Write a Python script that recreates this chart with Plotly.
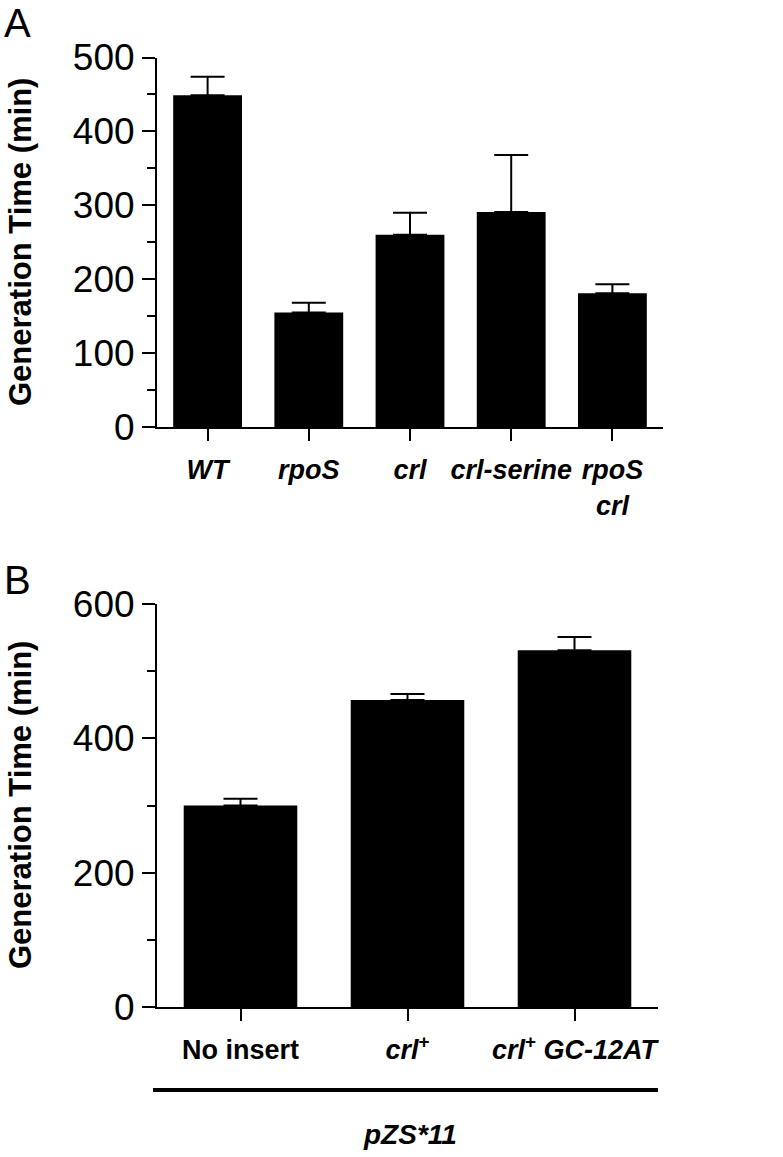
import plotly.graph_objects as go

# Panel A data
cats_a = ["<i>WT</i>", "<i>rpoS</i>", "<i>crl</i>", "<i>crl-serine</i>", "<i>rpoS</i><br><i>crl</i>"]
vals_a = [449, 155, 260, 291, 181]
err_a = [25, 13, 30, 77, 12]
yticks_a = [0, 100, 200, 300, 400, 500]

# Panel B data
cats_b = ["No insert", "<i>crl</i><sup>+</sup>", "<i>crl</i><sup>+</sup> <i>GC-12AT</i>"]
vals_b = [300, 457, 531]
err_b = [10, 9, 20]
yticks_b = [0, 200, 400, 600]

W, H = 783, 1157
FONT = "Liberation Sans, Arial, Helvetica, sans-serif"


def px(x):
    return x / W


def py(y):
    return 1 - y / H


fig = go.Figure()

fig.add_trace(go.Bar(
    x=list(range(len(cats_a))), y=vals_a, width=0.68,
    marker=dict(color="black", line=dict(width=0)),
    error_y=dict(type="data", array=err_a, arrayminus=[0]*len(err_a), symmetric=False,
                 color="black", thickness=2, width=17),
    xaxis="x", yaxis="y", showlegend=False))

fig.add_trace(go.Bar(
    x=list(range(len(cats_b))), y=vals_b, width=0.68,
    marker=dict(color="black", line=dict(width=0)),
    error_y=dict(type="data", array=err_b, arrayminus=[0]*len(err_b), symmetric=False,
                 color="black", thickness=2, width=17),
    xaxis="x2", yaxis="y2", showlegend=False))

axis_common = dict(showline=True, linecolor="black", linewidth=2, ticks="outside",
                   tickcolor="black", tickwidth=2, showgrid=False, zeroline=False,
                   automargin=False)

fig.update_layout(
    width=W, height=H, margin=dict(l=0, r=0, t=0, b=0, autoexpand=False),
    paper_bgcolor="white", plot_bgcolor="white",
    font=dict(family=FONT, color="black"),
    xaxis=dict(domain=[px(157), px(663)], range=[-0.5, len(cats_a)-0.5], anchor="y",
               tickmode="array", tickvals=list(range(len(cats_a))), ticktext=["<b>"+c+"</b>" for c in cats_a],
               ticklen=12, tickangle=0, ticklabelstandoff=6, tickfont=dict(size=27, family=FONT), **axis_common),
    yaxis=dict(domain=[py(427), py(57.5)], range=[0, 500], anchor="x",
               tickmode="array", tickvals=yticks_a, ticklen=13,
               minor=dict(dtick=50, ticklen=8, tickwidth=2, tickcolor="black", ticks="outside"),
               tickfont=dict(size=37, family=FONT), **axis_common),
    xaxis2=dict(domain=[px(157), px(658)], range=[-0.5, len(cats_b)-0.5], anchor="y2",
                tickmode="array", tickvals=list(range(len(cats_b))), ticktext=["<b>"+c+"</b>" for c in cats_b],
                ticklen=12, tickangle=0, ticklabelstandoff=6, tickfont=dict(size=27, family=FONT), **axis_common),
    yaxis2=dict(domain=[py(1007), py(604)], range=[0, 600], anchor="x2",
                tickmode="array", tickvals=yticks_b, ticklen=13,
                minor=dict(dtick=100, ticklen=8, tickwidth=2, tickcolor="black", ticks="outside"),
                tickfont=dict(size=37, family=FONT), **axis_common),
)

annos = [
    dict(text="A", x=px(17), y=py(23), font=dict(size=40, family=FONT)),
    dict(text="B", x=px(17), y=py(580), font=dict(size=40, family=FONT)),
    dict(text="<b>Generation Time (min)</b>", x=px(20), y=py(242), textangle=-90, font=dict(size=31, family=FONT)),
    dict(text="<b>Generation Time (min)</b>", x=px(20), y=py(805), textangle=-90, font=dict(size=31, family=FONT)),
    dict(text="<b><i>pZS*11</i></b>", x=px(410), y=py(1134), font=dict(size=28, family=FONT)),
]
for a in annos:
    fig.add_annotation(xref="paper", yref="paper", showarrow=False, xanchor="center", yanchor="middle",
                       font_color="black", **a)

fig.add_shape(type="line", xref="paper", yref="paper", x0=px(153), x1=px(658), y0=py(1090), y1=py(1090),
              line=dict(color="black", width=4))

fig.write_html("out.html", config={"displayModeBar": False},
               post_script="document.body.style.margin='0px';")
